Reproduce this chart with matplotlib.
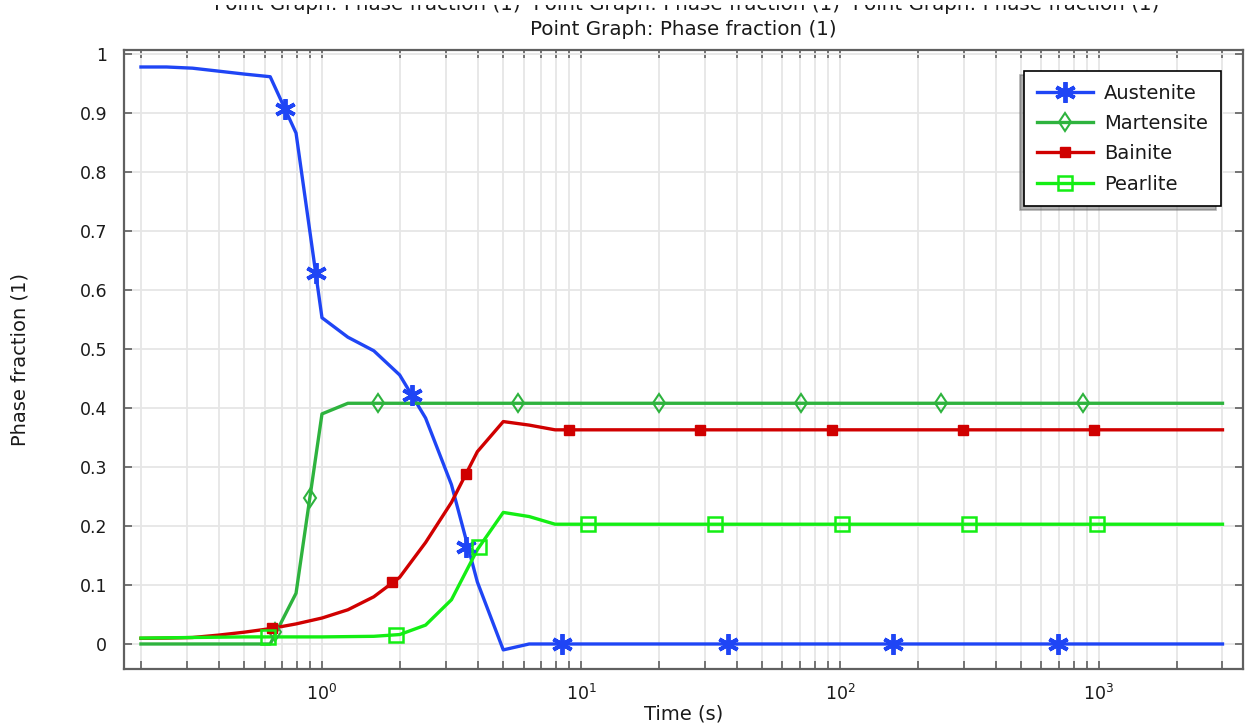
import numpy as np
import matplotlib
matplotlib.use("Agg")
import matplotlib.pyplot as plt
from matplotlib.lines import Line2D
from matplotlib.patches import Rectangle
from matplotlib.ticker import LogLocator, NullFormatter

# solver output times (s)
time_s = [0.2, 0.251, 0.316, 0.398, 0.501, 0.631, 0.794, 1.0, 1.259, 1.585,
          1.995, 2.512, 3.162, 3.981, 5.012, 6.310, 7.943, 10.0, 3000.0]

austenite = [0.978, 0.978, 0.976, 0.971, 0.966, 0.9615, 0.866, 0.553, 0.520, 0.497,
             0.456, 0.383, 0.270, 0.105, -0.010, 0.0, 0.0, 0.0, 0.0]
martensite = [0.0, 0.0, 0.0, 0.0, 0.0, 0.0, 0.086, 0.390, 0.408, 0.408,
              0.408, 0.408, 0.408, 0.408, 0.408, 0.408, 0.408, 0.408, 0.408]
bainite = [0.0096, 0.010, 0.011, 0.015, 0.020, 0.026, 0.034, 0.044, 0.058, 0.080,
           0.113, 0.172, 0.240, 0.326, 0.377, 0.371, 0.363, 0.363, 0.363]
pearlite = [0.010, 0.0105, 0.011, 0.0115, 0.012, 0.012, 0.012, 0.012, 0.0125, 0.013,
            0.016, 0.032, 0.075, 0.160, 0.223, 0.216, 0.203, 0.203, 0.203]

# marker positions as drawn along each curve
aus_mk_t = [0.719, 0.948, 2.22, 3.6, 8.45, 36.9, 160.5, 698]
aus_mk_v = [0.907, 0.629, 0.422, 0.165, 0.0, 0.0, 0.0, 0.0]
mar_mk_t = [0.661, 0.9, 1.64, 5.7, 20.0, 70.8, 246, 868]
mar_mk_v = [0.02, 0.248, 0.408, 0.408, 0.408, 0.408, 0.408, 0.408]
bai_mk_t = [0.64, 1.86, 3.6, 9.0, 28.9, 93.0, 299, 957]
bai_mk_v = [0.027, 0.105, 0.288, 0.363, 0.363, 0.363, 0.363, 0.363]
pea_mk_t = [0.62, 1.93, 4.05, 10.6, 32.9, 101.5, 316, 983]
pea_mk_v = [0.012, 0.016, 0.165, 0.203, 0.203, 0.203, 0.203, 0.203]

names = ["Austenite", "Martensite", "Bainite", "Pearlite"]
colors = ["#1f45f5", "#2eb33e", "#d00000", "#14ee14"]
ytick_vals = [0, 0.1, 0.2, 0.3, 0.4, 0.5, 0.6, 0.7, 0.8, 0.9, 1]
ytick_text = ["0", "0.1", "0.2", "0.3", "0.4", "0.5", "0.6", "0.7", "0.8", "0.9", "1"]

W, H = 1248, 725
plt.rcParams["font.family"] = "DejaVu Sans"
fig = plt.figure(figsize=(W / 100, H / 100), dpi=100)
ax = fig.add_axes([124 / W, 1 - 669 / H, (1243 - 124) / W, (669 - 50) / H])

txt_col = "#1a1a1a"
lw = 2.4
series = [
    (austenite, aus_mk_t, aus_mk_v, dict(marker=(6, 2, 0), ms=15, mew=2.8, mfc=colors[0])),
    (martensite, mar_mk_t, mar_mk_v, dict(marker="d", ms=9.5, mew=1.5, mfc="none")),
    (bainite, bai_mk_t, bai_mk_v, dict(marker="s", ms=7.5, mew=1.0, mfc=colors[2])),
    (pearlite, pea_mk_t, pea_mk_v, dict(marker="s", ms=10, mew=1.8, mfc="none")),
]

handles = []
for (vals, mt, mv, mk), c, name in zip(series, colors, names):
    ax.plot(time_s, vals, color=c, lw=lw, zorder=3)
    ax.plot(mt, mv, ls="none", color=c, mec=c, zorder=4, **mk)
    handles.append(Line2D([], [], color=c, lw=lw, mec=c, **mk))

ax.set_xscale("log")
ax.set_xlim(0.172, 3600)
ax.set_ylim(-0.0424, 1.0068)
ax.set_yticks(ytick_vals)
ax.set_yticklabels(ytick_text)
ax.xaxis.set_major_locator(LogLocator(base=10))
ax.xaxis.set_minor_locator(LogLocator(base=10, subs=np.arange(2, 10)))
ax.xaxis.set_minor_formatter(NullFormatter())

ax.grid(which="both", axis="x", color="#e6e6e6", lw=1.3, zorder=0)
ax.grid(which="major", axis="y", color="#e6e6e6", lw=1.3, zorder=0)
ax.set_axisbelow(True)

for sp in ax.spines.values():
    sp.set_color("#606060")
    sp.set_linewidth(1.6)
ax.tick_params(which="both", direction="in", top=True, right=True, length=6,
               color="#606060", width=1.2, labelsize=12.5, labelcolor=txt_col)
ax.tick_params(axis="x", pad=11)
ax.tick_params(axis="y", pad=12)

ax.set_xlabel("Time (s)", fontsize=14, color=txt_col, labelpad=0)
ax.set_ylabel("Phase fraction (1)", fontsize=14, color=txt_col, labelpad=36)
ax.set_title("Point Graph: Phase fraction (1)", fontsize=14.3, color=txt_col, pad=11)

# clipped repeated title strip at the very top
t1 = "Point Graph: Phase fraction (1)"
fig.text(0.55, 1 - 10.5 / H, "  ".join([t1] * 3), ha="center", va="baseline",
         fontsize=14.3, color=txt_col)
fig.patches.append(Rectangle((0, 1 - 5 / H), 1, 5 / H, transform=fig.transFigure,
                             facecolor="white", edgecolor="none", zorder=10))

leg = ax.legend(handles, names, loc="upper right", bbox_to_anchor=(0.980, 0.966),
                borderaxespad=0, fancybox=False, framealpha=1, edgecolor="black",
                fontsize=14, handlelength=2.9, handletextpad=0.55, labelspacing=0.58,
                borderpad=0.65, shadow={"ox": -3, "oy": -3, "shade": 0.6})
leg.get_frame().set_linewidth(1.2)
for txt in leg.get_texts():
    txt.set_color(txt_col)

fig.savefig("out.png", dpi=100)
